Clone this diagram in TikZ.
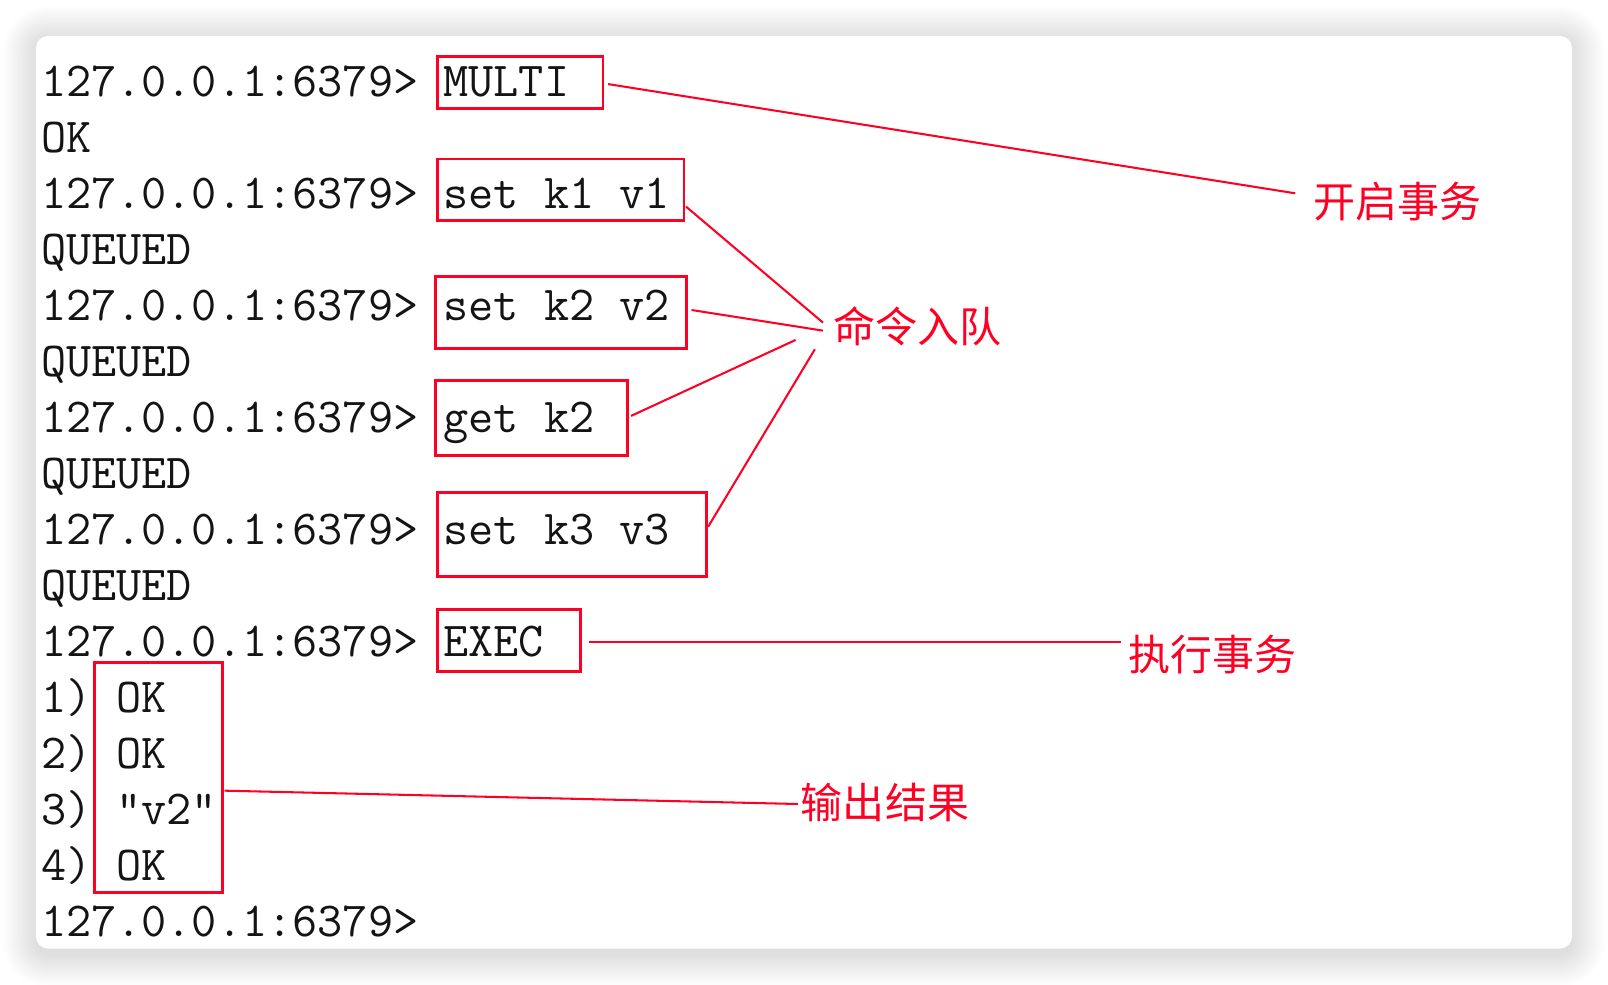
\documentclass[tikz,border=0pt]{standalone}
\usepackage{fontspec}
\newfontfamily\cjk{Noto Sans CJK SC}
\usetikzlibrary{calc}
\definecolor{mark}{RGB}{255,0,36}
\definecolor{ink}{RGB}{20,20,20}
\begin{document}
\begin{tikzpicture}[x=1pt,y=-1pt,
  box/.style={rectangle, draw=mark, line width=2.8pt, inner sep=0pt, outer sep=0pt},
  conn/.style={draw=mark, line width=2pt},
  term/.style={anchor=base west, inner sep=0pt, outer sep=0pt, text=ink,
    font=\ttfamily\fontsize{47.64}{54.6}\selectfont},
  lab/.style={anchor=west, inner sep=0pt, outer sep=0pt, text=mark,
    font=\cjk\fontsize{41}{48}\selectfont}]
\useasboundingbox (0,0) rectangle (1568,960);
\fill[white] (0,0) rectangle (1568,960);
% soft shadow of the panel
\foreach \k [evaluate=\k as \r using 12+\k] in {1,...,32}{
  \fill[black, fill opacity=0.0055, rounded corners=\r pt]
    (35-\k,38-\k) rectangle (1533+\k,930+\k);
}
\fill[white, rounded corners=12pt] (35,35) rectangle (1533,925);

% terminal text
\node[term] (t1)  at (40,93.8)  {127.0.0.1:6379> MULTI};
\node[term] (t2)  at (40,148.4) {OK};
\node[term] (t3)  at (40,203.0) {127.0.0.1:6379> set k1 v1};
\node[term] (t4)  at (40,257.6) {QUEUED};
\node[term] (t5)  at (40,312.2) {127.0.0.1:6379> set k2 v2};
\node[term] (t6)  at (40,366.8) {QUEUED};
\node[term] (t7)  at (40,421.4) {127.0.0.1:6379> get k2};
\node[term] (t8)  at (40,476.0) {QUEUED};
\node[term] (t9)  at (40,530.6) {127.0.0.1:6379> set k3 v3};
\node[term] (t10) at (40,585.2) {QUEUED};
\node[term] (t11) at (40,639.8) {127.0.0.1:6379> EXEC};
\node[term] (t12) at (40,694.4) {1) OK};
\node[term] (t13) at (40,749.0) {2) OK};
\node[term] (t14) at (40,803.6) {3) "v2"};
\node[term] (t15) at (40,858.2) {4) OK};
\node[term] (t16) at (40,912.8) {127.0.0.1:6379>};

% red boxes
\node[box, minimum width=161pt, minimum height=51pt] (bmulti) at (507.5,80.5) {};
\node[box, minimum width=240pt, minimum height=60pt] (bk1)    at (547,185) {};
\node[box, minimum width=244pt, minimum height=70pt] (bk2)    at (547,305) {};
\node[box, minimum width=187pt, minimum height=73pt] (bget)   at (518.5,407.5) {};
\node[box, minimum width=262pt, minimum height=82pt] (bk3)    at (558,521) {};
\node[box, minimum width=139pt, minimum height=61pt] (bexec)  at (496.5,624.5) {};
\node[box, minimum width=125pt, minimum height=224pt] (bres)  at (154.5,758) {};

% labels
\node[lab] (l1) at (1281,196.5) {开启事务};
\node[lab] (l2) at (813,318)    {命令入队};
\node[lab] (l3) at (1100,638)   {执行事务};
\node[lab] (l4) at (781,782.5)  {输出结果};

% connectors
\draw[conn] ($(bmulti.east)+(5,1.5)$) -- ($(l1.west)+(-18,-8)$);
\draw[conn] ($(bk1.east)+(2,16.5)$)   -- ($(l2.west)+(-10.5,-3.4)$);
\draw[conn] ($(bk2.east)+(5.4,-2.7)$) -- ($(l2.west)+(-10.6,4.4)$);
\draw[conn] ($(bget.east)+(3.3,-1.9)$) -- ($(l2.west)+(-37.2,13.5)$);
\draw[conn] ($(bk3.east)+(1.6,-7.5)$) -- ($(l2.west)+(-18.4,22.6)$);
\draw[conn] ($(bexec.east)+(8,1.8)$)  -- ($(l3.west)+(-7,-11.7)$);
\draw[conn] ($(bres.east)+(2,13)$)    -- ($(l4.west)+(-3,1.5)$);
\end{tikzpicture}
\end{document}
